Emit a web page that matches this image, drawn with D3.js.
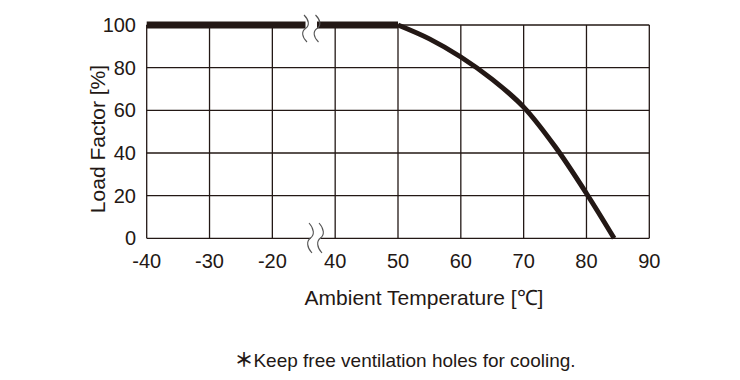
<!DOCTYPE html>
<html>
<head>
<meta charset="utf-8">
<script src="https://cdn.jsdelivr.net/npm/d3@7"></script>
<style>
  html, body { margin: 0; padding: 0; background: #fff; }
  svg { display: block; }
  text { font-family: "Liberation Sans", Arial, Helvetica, sans-serif; fill: #231815; }
</style>
</head>
<body>
<svg id="chart" width="740" height="380"></svg>
<script>
// ---- data ----
const xTicks = [-40, -30, -20, 40, 50, 60, 70, 80, 90];
const yTicks = [0, 20, 40, 60, 80, 100];
const tempC = [-40, 50, 55, 60, 65, 70, 75, 80, 84.4];
const loadPct = [100, 100, 93.5, 85, 74.5, 61.5, 43, 21, 0];
const xTitle = "Ambient Temperature [℃]";
const yTitle = "Load Factor [%]";
const footnote = "Keep free ventilation holes for cooling.";

// ---- layout ----
const svg = d3.select("#chart");
const pLeft = 146.7, pRight = 649.3, pTop = 25, pBottom = 238.3;
const step = (pRight - pLeft) / 8;
const ink = "#231815";

// broken axis: -40..-20 then 40..90, all ticks evenly spaced
const x = d3.scaleLinear()
  .domain([-40, -20, 40, 90])
  .range([pLeft, pLeft + 2 * step, pLeft + 3 * step, pRight]);
const y = d3.scaleLinear().domain([0, 100]).range([pBottom, pTop]);

// grid
const g = svg.append("g");
g.selectAll("line.v").data(xTicks).join("line")
  .attr("class", "v")
  .attr("x1", d => x(d)).attr("x2", d => x(d))
  .attr("y1", pTop).attr("y2", pBottom)
  .attr("stroke", ink).attr("stroke-width", 1.3);
g.selectAll("line.h").data(yTicks).join("line")
  .attr("class", "h")
  .attr("x1", pLeft).attr("x2", pRight)
  .attr("y1", d => y(d)).attr("y2", d => y(d))
  .attr("stroke", ink).attr("stroke-width", 1.3);

// tick labels
svg.append("g").selectAll("text").data(xTicks).join("text")
  .attr("x", d => x(d)).attr("y", 267.5)
  .attr("text-anchor", "middle").attr("font-size", 20)
  .text(d => d);
svg.append("g").selectAll("text").data(yTicks).join("text")
  .attr("x", 136).attr("y", d => y(d) + 7)
  .attr("text-anchor", "end").attr("font-size", 20)
  .text(d => d);

// curve
const pts = tempC.map((t, i) => [t, loadPct[i]]);
const line = d3.line().x(d => x(d[0])).y(d => y(d[1]));
svg.append("path")
  .attr("d", line(pts.slice(0, 2)))
  .attr("fill", "none").attr("stroke", ink).attr("stroke-width", 7);
svg.append("path")
  .attr("d", line.curve(d3.curveCatmullRom.alpha(0.5))(pts.slice(1)))
  .attr("fill", "none").attr("stroke", ink).attr("stroke-width", 5);

// axis break marks
function wave(cx, y0, y1) {
  const h = y1 - y0;
  return `M${cx - 1.5},${y0} C${cx + 4},${y0 + h * 0.2} ${cx + 4},${y0 + h * 0.4} ${cx},${y0 + h * 0.5}` +
         ` C${cx - 4},${y0 + h * 0.6} ${cx - 4},${y0 + h * 0.8} ${cx + 1.5},${y1}`;
}
function brk(c1, c2, y0, y1, yLine, w) {
  svg.append("rect").attr("x", c1).attr("y", yLine - w / 2 - 0.5)
    .attr("width", c2 - c1).attr("height", w + 1).attr("fill", "#fff");
  [c1, c2].forEach(c => svg.append("path").attr("d", wave(c, y0, y1))
    .attr("fill", "none").attr("stroke", "#555").attr("stroke-width", 1.1));
}
brk(305.5, 317, 15, 42, y(100), 7);
brk(310.5, 320.5, 223, 253, y(0), 2);

// titles
svg.append("text")
  .attr("transform", `translate(105,139) rotate(-90)`)
  .attr("text-anchor", "middle").attr("font-size", 21)
  .text(yTitle);
svg.append("text")
  .attr("x", 424).attr("y", 305)
  .attr("text-anchor", "middle").attr("font-size", 21)
  .text(xTitle);
const fn = svg.append("text")
  .attr("x", 405).attr("y", 367)
  .attr("text-anchor", "middle").attr("font-size", 19);
fn.append("tspan").attr("font-family", "'Noto Sans CJK JP', sans-serif")
  .attr("font-weight", "bold").text("＊");
fn.append("tspan").text(footnote);
</script>
</body>
</html>
